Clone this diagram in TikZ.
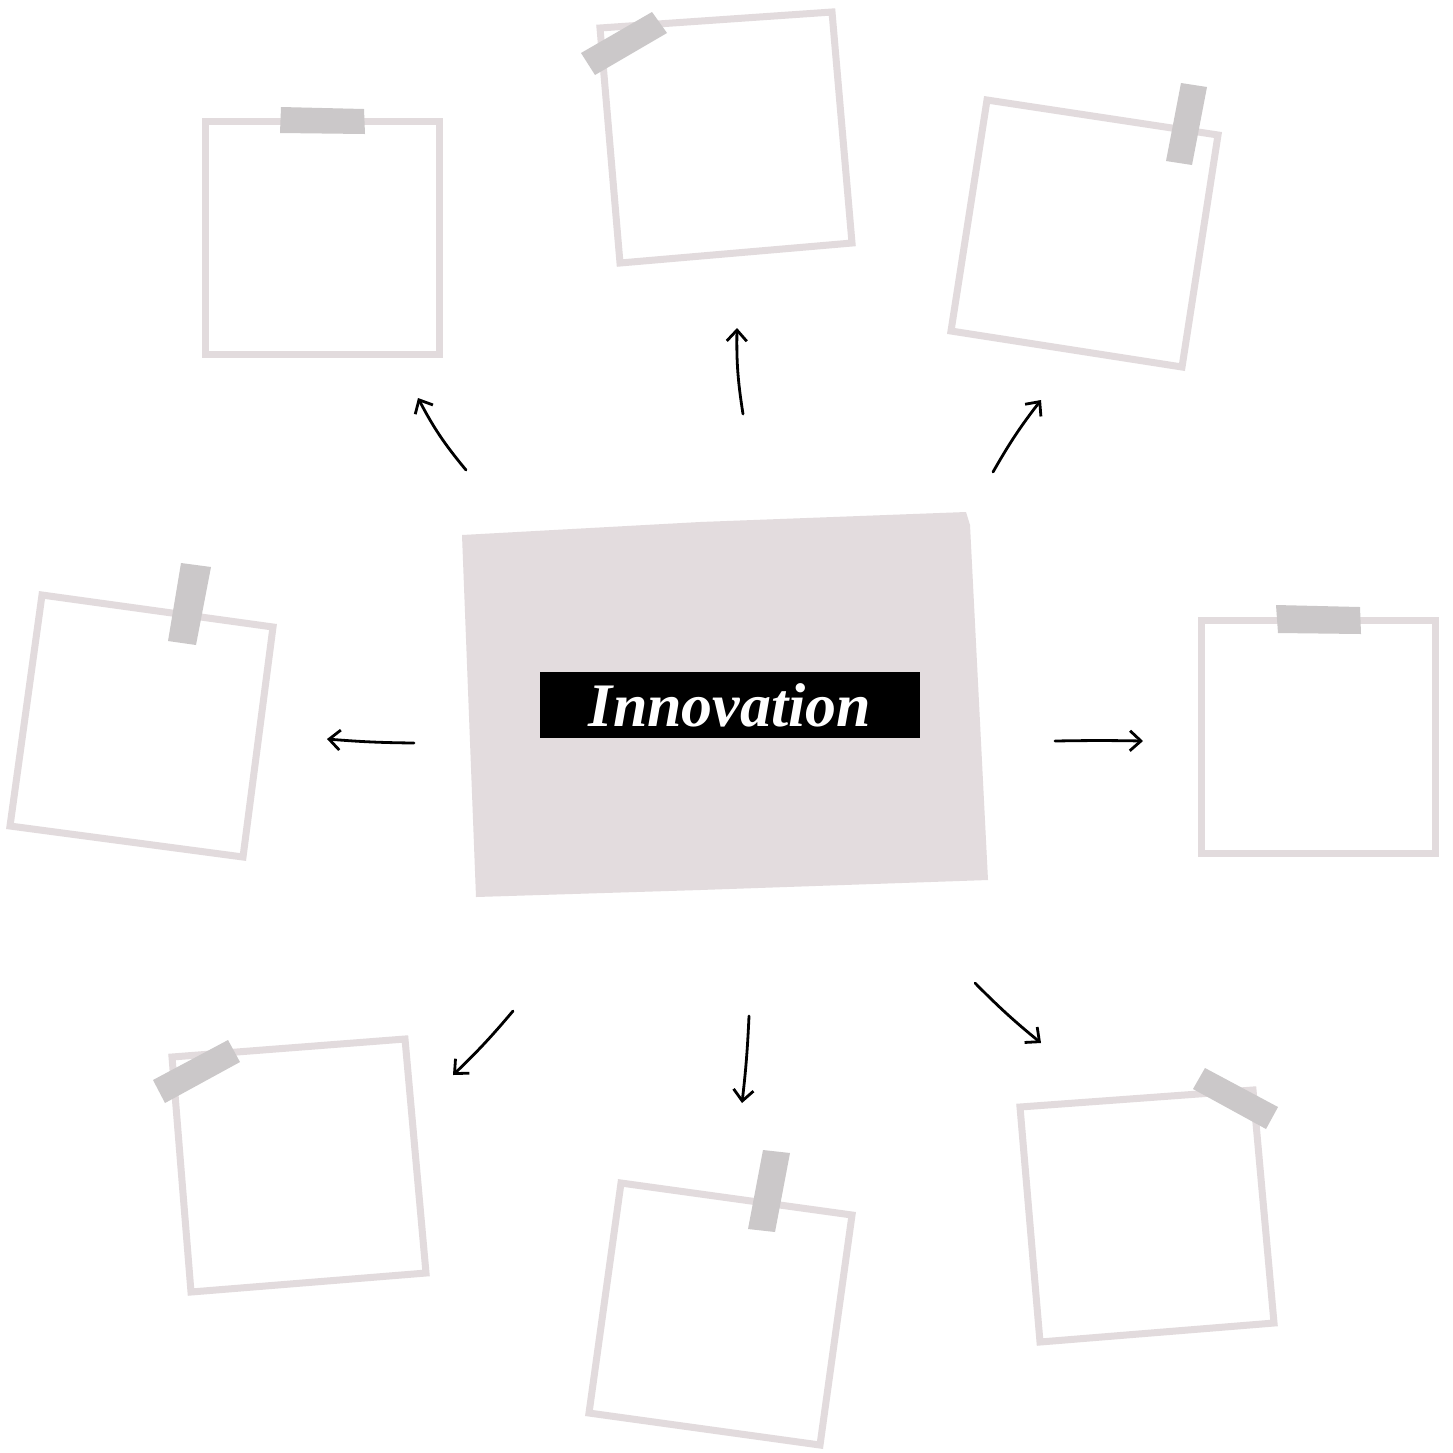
\documentclass[tikz,border=0pt]{standalone}
\usepackage{fontspec}
\usepackage{graphicx}
\setmainfont{Liberation Serif}
\usetikzlibrary{arrows.meta}
\definecolor{framec}{HTML}{E2DBDD}
\definecolor{tapec}{HTML}{CBC8C9}
\definecolor{centerc}{HTML}{E3DCDE}
\tikzset{
  frame/.style={draw=framec, line width=7pt, line join=miter},
  tape/.style={fill=tapec, draw=none},
  link/.style={line width=2.8pt, line cap=round, -{Straight Barb[length=11pt,width=20pt,line width=2.8pt]}},
}
\begin{document}
\begin{tikzpicture}[x=1pt,y=-1pt]
\useasboundingbox (0,0) rectangle (1453,1452);
\fill[white] (0,0) rectangle (1453,1452);

% central box
\fill[centerc] (462,535) -- (700,522) -- (966,512) -- (970,525) -- (988,880) -- (700,890) -- (476,897) -- cycle;
\node[fill=black, minimum width=380pt, minimum height=66pt, inner sep=0pt, text=white] (title) at (730,705)
  {\resizebox{282pt}{!}{\bfseries\itshape Innovation}};

% frame 1 top-left
\draw[frame] (205,121) -- (439,121) -- (439,354) -- (205,354) -- cycle;
\fill[tape] (281,107) -- (364,109) -- (365,134) -- (280,133) -- cycle;

% frame 2 top-center
\draw[frame] (600,28) -- (832,12) -- (852,243) -- (620,263) -- cycle;
\fill[tape] (581,53) -- (652,12) -- (667,33) -- (595,75) -- cycle;

% frame 3 top-right
\draw[frame] (987,100) -- (1218,135) -- (1182,367) -- (951,331) -- cycle;
\fill[tape] (1181,83) -- (1207,87) -- (1192,165) -- (1166,161) -- cycle;

% frame 4 left
\draw[frame] (42,595) -- (273,627) -- (243,857) -- (10,826) -- cycle;
\fill[tape] (181,563) -- (211,567) -- (196,645) -- (168,641) -- cycle;

% frame 5 right
\draw[frame] (1201,620) -- (1435,620) -- (1435,853) -- (1201,853) -- cycle;
\fill[tape] (1276,605) -- (1360,607) -- (1361,634) -- (1278,633) -- cycle;

% frame 6 bottom-left
\draw[frame] (172,1057) -- (405,1039) -- (426,1273) -- (191,1292) -- cycle;
\fill[tape] (153,1080) -- (228,1040) -- (240,1062) -- (165,1103) -- cycle;

% frame 7 bottom-center
\draw[frame] (621,1183) -- (852,1215) -- (820,1445) -- (589,1413) -- cycle;
\fill[tape] (763,1150) -- (790,1153) -- (775,1232) -- (748,1229) -- cycle;

% frame 8 bottom-right
\draw[frame] (1020,1107) -- (1253,1090) -- (1274,1323) -- (1040,1342) -- cycle;
\fill[tape] (1205,1068) -- (1278,1107) -- (1266,1129) -- (1193,1089) -- cycle;

% arrow endpoints
\coordinate (a1s) at (466,470); \coordinate (a1e) at (418,398);
\coordinate (a2s) at (743,414); \coordinate (a2e) at (737,328);
\coordinate (a3s) at (993,472); \coordinate (a3e) at (1041,400);
\coordinate (a4s) at (414,743); \coordinate (a4e) at (327,739);
\coordinate (a5s) at (1055,741); \coordinate (a5e) at (1143,741);
\coordinate (a6s) at (513,1011); \coordinate (a6e) at (453,1075);
\coordinate (a7s) at (749,1016); \coordinate (a7e) at (742,1103);
\coordinate (a8s) at (975,983); \coordinate (a8e) at (1041,1043);

\draw[link] (a1s) to[bend left=6] (a1e);
\draw[link] (a2s) to[bend left=5] (a2e);
\draw[link] (a3s) to[bend left=4] (a3e);
\draw[link] (a4s) to[bend left=2] (a4e);
\draw[link] (a5s) to[bend left=1] (a5e);
\draw[link] (a6s) to[bend left=3] (a6e);
\draw[link] (a7s) to[bend left=2] (a7e);
\draw[link] (a8s) to[bend right=3] (a8e);
\end{tikzpicture}
\end{document}
